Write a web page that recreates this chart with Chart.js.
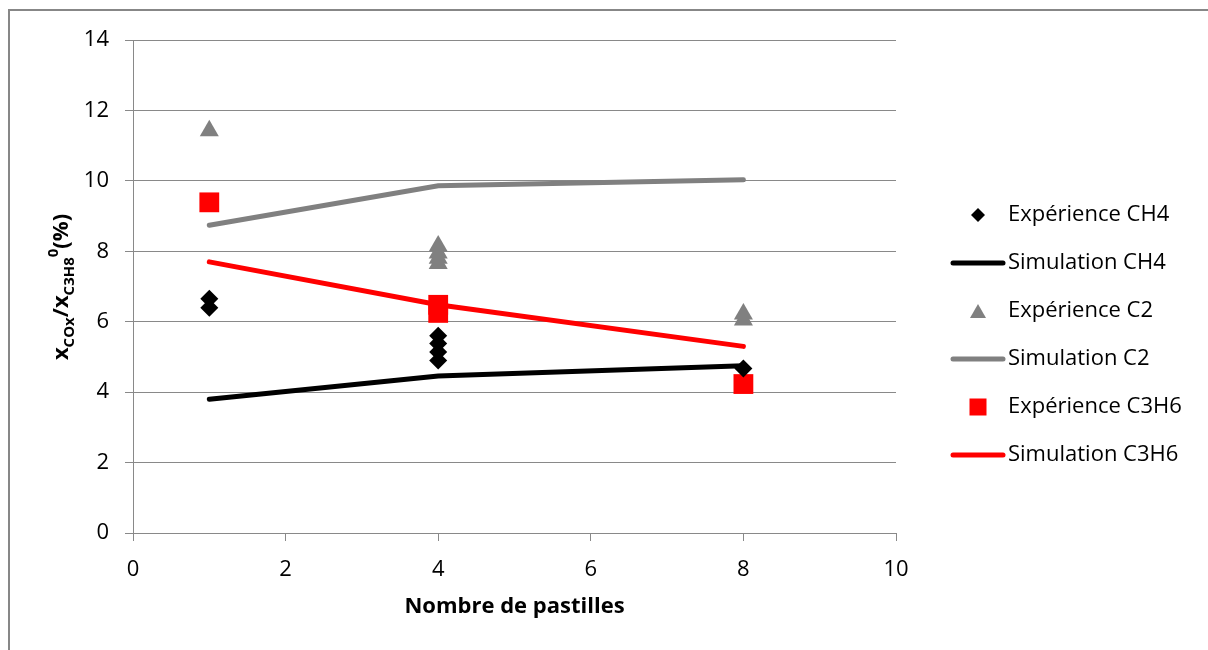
<!DOCTYPE html>
<html>
<head>
<meta charset="utf-8">
<script src="https://cdn.jsdelivr.net/npm/chart.js@4"></script>
<style>
  html, body { margin: 0; padding: 0; background: #fff; overflow: hidden; }
  #wrap { position: relative; width: 1208px; height: 650px; overflow: hidden; }
  #frame { position: absolute; left: 8px; top: 9px; width: 1300px; height: 700px; border: 2px solid #878787; }
  #chart { position: absolute; left: 0; top: 0; }
</style>
</head>
<body>
<div id="wrap">
  <div id="frame"></div>
  <canvas id="chart" width="1208" height="650"></canvas>
</div>
<script>
// Simulation curves (x = nombre de pastilles)
const simX = [1, 4, 8];
const simCH4 = [3.8, 4.46, 4.75];
const simC2 = [8.74, 9.86, 10.03];
const simC3H6 = [7.7, 6.48, 5.3];

// Experimental points
const expCH4X = [1, 1, 4, 4, 4, 4, 8];
const expCH4 = [6.65, 6.4, 5.6, 5.38, 5.14, 4.9, 4.67];
const expC2X = [1, 4, 4, 4, 4, 8, 8];
const expC2 = [11.42, 8.15, 7.95, 7.8, 7.65, 6.22, 6.05];
const expC3H6X = [1, 4, 4, 8];
const expC3H6 = [9.39, 6.48, 6.25, 4.23];

const xTicks = [0, 2, 4, 6, 8, 10];
const yTicks = [0, 2, 4, 6, 8, 10, 12, 14];

const labels = ['Expérience CH4', 'Simulation CH4', 'Expérience C2',
  'Simulation C2', 'Expérience C3H6', 'Simulation C3H6'];

const BLACK = '#000000';
const GRAY = '#808080';
const RED = '#ff0000';
const FONT = 'Open Sans';

function pts(xs, ys) {
  return xs.map((x, i) => ({ x: x, y: ys[i] }));
}

// legend box width is worked out so that the plot stops at x = 10 where it should
const LEG_FONT = 22, LEG_PAD = 26, LEG_BOX = 38, LEG_LEFT = 933;
const meas = document.createElement('canvas').getContext('2d');
meas.font = LEG_FONT + 'px ' + FONT;
const longest = Math.max(...labels.map(t => meas.measureText(t).width));
const legendWidth = LEG_PAD + LEG_BOX + LEG_FONT / 2 + longest + 10;
const padRight = 1208 - LEG_LEFT - legendWidth;

// small canvases used as legend symbols
function icon(w, h, draw) {
  const c = document.createElement('canvas');
  c.width = w;
  c.height = h;
  draw(c.getContext('2d'), w, h);
  return c;
}
function lineIcon(color) {
  return icon(56, 6, (g, w, h) => {
    g.strokeStyle = color;
    g.lineWidth = 5;
    g.lineCap = 'round';
    g.beginPath();
    g.moveTo(3, h / 2);
    g.lineTo(w - 3, h / 2);
    g.stroke();
  });
}
const legendIcons = [
  icon(16, 16, (g) => {
    g.fillStyle = BLACK;
    g.beginPath();
    g.moveTo(8, 1); g.lineTo(15, 8); g.lineTo(8, 15); g.lineTo(1, 8);
    g.closePath(); g.fill();
  }),
  lineIcon(BLACK),
  icon(18, 16, (g) => {
    g.fillStyle = GRAY;
    g.beginPath();
    g.moveTo(9, 1); g.lineTo(17, 15); g.lineTo(1, 15);
    g.closePath(); g.fill();
  }),
  lineIcon(GRAY),
  icon(18, 18, (g) => {
    g.fillStyle = RED;
    g.fillRect(0.5, 0.5, 17, 17);
  }),
  lineIcon(RED)
];

function expSet(label, xs, ys, color, style, radius) {
  return {
    label: label,
    data: pts(xs, ys),
    showLine: false,
    pointStyle: style,
    pointRadius: radius,
    pointHoverRadius: radius,
    pointBackgroundColor: color,
    pointBorderColor: color,
    pointBorderWidth: 0,
    backgroundColor: color,
    borderColor: color
  };
}
function simSet(label, ys, color) {
  return {
    label: label,
    data: pts(simX, ys),
    showLine: true,
    borderColor: color,
    backgroundColor: color,
    borderWidth: 5,
    borderCapStyle: 'round',
    pointRadius: 0,
    pointHoverRadius: 0,
    tension: 0
  };
}

// y axis title with subscripts / superscript
const yTitle = {
  id: 'yTitle',
  afterDraw(chart) {
    const ctx = chart.ctx;
    const big = 'bold 22px "' + FONT + '"';
    const small = 'bold 15px "' + FONT + '"';
    const runs = [
      ['x', big, 0], ['COx', small, 6], ['/x', big, 0],
      ['C3H8', small, 6], ['0', small, -10], ['(%)', big, 0]
    ];
    ctx.save();
    let total = 0;
    runs.forEach(r => { ctx.font = r[1]; total += ctx.measureText(r[0]).width; });
    ctx.translate(68, 287);
    ctx.rotate(-Math.PI / 2);
    ctx.fillStyle = '#000';
    ctx.textBaseline = 'alphabetic';
    ctx.textAlign = 'left';
    let x = -total / 2;
    runs.forEach(r => {
      ctx.font = r[1];
      ctx.fillText(r[0], x, r[2]);
      x += ctx.measureText(r[0]).width;
    });
    ctx.restore();
  }
};

new Chart(document.getElementById('chart'), {
  type: 'scatter',
  data: {
    datasets: [
      expSet(labels[0], expCH4X, expCH4, BLACK, 'rectRot', 9),
      simSet(labels[1], simCH4, BLACK),
      expSet(labels[2], expC2X, expC2, GRAY, 'triangle', 11),
      simSet(labels[3], simC2, GRAY),
      expSet(labels[4], expC3H6X, expC3H6, RED, 'rect', 14),
      simSet(labels[5], simC3H6, RED)
    ]
  },
  options: {
    responsive: false,
    animation: false,
    events: [],
    layout: { padding: { left: 0, top: 40, right: padRight, bottom: 20 } },
    scales: {
      x: {
        type: 'linear',
        min: 0,
        max: 10,
        afterBuildTicks: s => { s.ticks = xTicks.map(v => ({ value: v })); },
        afterFit: s => { s.height = 97; },
        grid: { drawOnChartArea: false, drawTicks: true, tickLength: 8, color: '#898989', lineWidth: 1 },
        border: { color: '#898989', width: 1 },
        ticks: { color: '#000', padding: 16, font: { family: FONT, size: 22 }, maxRotation: 0 },
        title: {
          display: true,
          text: 'Nombre de pastilles',
          color: '#000',
          font: { family: FONT, size: 22, weight: 'bold' },
          padding: { top: 0, bottom: 10 }
        }
      },
      y: {
        type: 'linear',
        min: 0,
        max: 14,
        afterBuildTicks: s => { s.ticks = yTicks.map(v => ({ value: v })); },
        afterFit: s => { s.width = 133; },
        grid: { drawOnChartArea: true, drawTicks: true, tickLength: 8, color: '#898989', lineWidth: 1 },
        border: { color: '#898989', width: 1 },
        ticks: { color: '#000', padding: 16, font: { family: FONT, size: 22 } }
      },
      // empty strip between the plot and the legend
      gap: {
        type: 'linear',
        position: 'right',
        display: false,
        afterFit: s => { s.width = 37; }
      }
    },
    plugins: {
      tooltip: { enabled: false },
      legend: {
        position: 'right',
        labels: {
          usePointStyle: true,
          pointStyleWidth: LEG_BOX,
          padding: LEG_PAD,
          color: '#000',
          font: { family: FONT, size: LEG_FONT },
          generateLabels: chart => Chart.defaults.plugins.legend.labels.generateLabels(chart)
            .map((item, i) => Object.assign(item, { pointStyle: legendIcons[i] }))
        }
      }
    }
  },
  plugins: [yTitle]
});
</script>
</body>
</html>
